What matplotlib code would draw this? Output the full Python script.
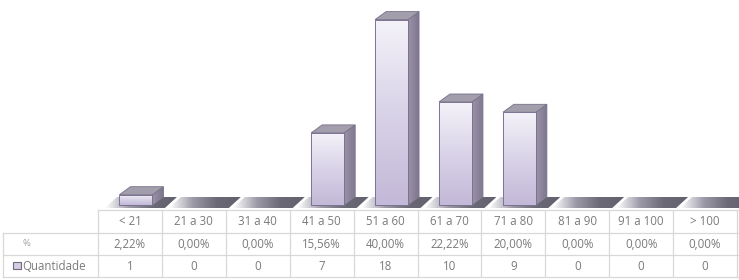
import numpy as np
import matplotlib
matplotlib.use("Agg")
import matplotlib.pyplot as plt
from matplotlib.patches import Polygon, Rectangle
from matplotlib.colors import LinearSegmentedColormap

categorias = ['< 21', '21 a 30', '31 a 40', '41 a 50', '51 a 60',
              '61 a 70', '71 a 80', '81 a 90', '91 a 100', '> 100']
percentual = ['2,22%', '0,00%', '0,00%', '15,56%', '40,00%',
              '22,22%', '20,00%', '0,00%', '0,00%', '0,00%']
quantidade = [1, 0, 0, 7, 18, 10, 9, 0, 0, 0]

W, H = 739, 280
fig = plt.figure(figsize=(W / 100, H / 100), dpi=100)

# chart area (pixel layout)
x0_px, x1_px = 99, 739
top_px, bot_px = 0, 210
base_px = 205          # value 0
px_per_unit = 10.3
col_px = (738 - 99) / len(categorias)

ax = fig.add_axes([x0_px / W, 1 - bot_px / H, (x1_px - x0_px) / W, (bot_px - top_px) / H])
ax.set_axis_off()
ylo = -(bot_px - base_px) / px_per_unit
yhi = (base_px - top_px) / px_per_unit
xlim = (0, (x1_px - x0_px) / col_px)

dx = 11 / col_px
dy = 8 / px_per_unit

front_cmap = LinearSegmentedColormap.from_list('front', ['#f4f2f9', '#d9d3e8', '#c3b9d8'])
floor_cmap = LinearSegmentedColormap.from_list('floor', ['#ffffff', '#9c99a6', '#6c6977', '#64616f'])
side_cmap = LinearSegmentedColormap.from_list('side', ['#9a92a8', '#7f778e'])

# floor segments
fy0 = -(208 - base_px) / px_per_unit
fy1 = (base_px - 197) / px_per_unit
for i in range(len(categorias)):
    L = i
    poly = [(L + 6 / col_px, fy0), (L + 1 + 2 / col_px, fy0),
            (L + 1 + 14 / col_px, fy1), (L + 18 / col_px, fy1)]
    p = Polygon(poly, closed=True, facecolor='none', edgecolor='none')
    ax.add_patch(p)
    grad = np.linspace(0, 1, 64).reshape(1, -1)
    im = ax.imshow(grad, cmap=floor_cmap, aspect='auto',
                   extent=(L + 6 / col_px, L + 1 + 14 / col_px, fy0, fy1),
                   origin='lower', zorder=1, interpolation='bilinear')
    im.set_clip_path(p)

# bars
xs = np.arange(len(categorias)) + 0.5 + 5 / col_px
w = 33 / col_px
bars = ax.bar(xs, quantidade, width=w, color='#d6d0e6', edgecolor='#7c7390',
              linewidth=0.7, zorder=3)
for b, v in zip(bars, quantidade):
    if v <= 0:
        b.set_visible(False)
        continue
    xl, xr = b.get_x(), b.get_x() + b.get_width()
    # gradient on front face
    grad = np.linspace(1, 0, 64).reshape(-1, 1)
    im = ax.imshow(grad, cmap=front_cmap, aspect='auto', extent=(xl, xr, 0, v),
                   origin='lower', zorder=3.5, interpolation='bilinear')
    im.set_clip_path(b)
    edge = Rectangle((xl, 0), xr - xl, v, facecolor='none', edgecolor='#7c7390',
                     linewidth=0.7, zorder=3.6)
    ax.add_patch(edge)
    side = Polygon([(xr, 0), (xr + dx, dy), (xr + dx, v + dy), (xr, v)], closed=True,
                   facecolor='#8a8298', edgecolor='#77708a', linewidth=0.6, zorder=3)
    ax.add_patch(side)
    gs = np.linspace(0, 1, 32).reshape(1, -1)
    ims = ax.imshow(gs, cmap=side_cmap, aspect='auto', extent=(xr, xr + dx, 0, v + dy),
                    origin='lower', zorder=3.1, interpolation='bilinear')
    ims.set_clip_path(side)
    topf = Polygon([(xl, v), (xr, v), (xr + dx, v + dy), (xl + dx, v + dy)], closed=True,
                   facecolor='#a39eac', edgecolor='#77708a', linewidth=0.6, zorder=3.2)
    ax.add_patch(topf)

ax.set_xlim(*xlim)
ax.set_ylim(ylo, yhi)

# data table drawn in pixel coordinates
tax = fig.add_axes([0, 0, 1, 1])
tax.set_xlim(0, W)
tax.set_ylim(H, 0)
tax.set_axis_off()
tax.patch.set_alpha(0)

line_c = '#d8d8d8'
txt_c = '#7a7a7a'
tx0, tx1 = 98, 738
rows = [210, 233, 255, 277]
n = len(categorias)
tax.plot([tx0, tx1], [rows[0], rows[0]], color=line_c, lw=0.9)
for yy in rows[1:]:
    tax.plot([3, tx1], [yy, yy], color=line_c, lw=0.9)
for k in range(n + 1):
    xx = tx0 + k * col_px
    tax.plot([xx, xx], [rows[0], rows[3]], color=line_c, lw=0.9)
tax.plot([3, 3], [rows[1], rows[3]], color=line_c, lw=0.9)

fs = 8.3
fam = ['Open Sans', 'DejaVu Sans']
for k in range(n):
    cx = tx0 + (k + 0.5) * col_px
    tax.text(cx, (rows[0] + rows[1]) / 2, categorias[k], ha='center', va='center',
             fontsize=fs, color=txt_c, family=fam)
    tax.text(cx, (rows[1] + rows[2]) / 2, percentual[k], ha='center', va='center',
             fontsize=fs, color=txt_c, family=fam)
    tax.text(cx, (rows[2] + rows[3]) / 2, str(quantidade[k]), ha='center', va='center',
             fontsize=fs, color=txt_c, family=fam)

tax.text(26, (rows[1] + rows[2]) / 2, '%', ha='center', va='center',
         fontsize=fs - 1.5, color='#a0a0a0', family=fam)
tax.add_patch(Rectangle((13, 262), 8, 7, facecolor='#d3cce4', edgecolor='#6f6a7c', lw=0.8))
tax.text(22, (rows[2] + rows[3]) / 2, 'Quantidade', ha='left', va='center',
         fontsize=fs, color=txt_c, family=fam)

fig.savefig('out.png', dpi=100)
